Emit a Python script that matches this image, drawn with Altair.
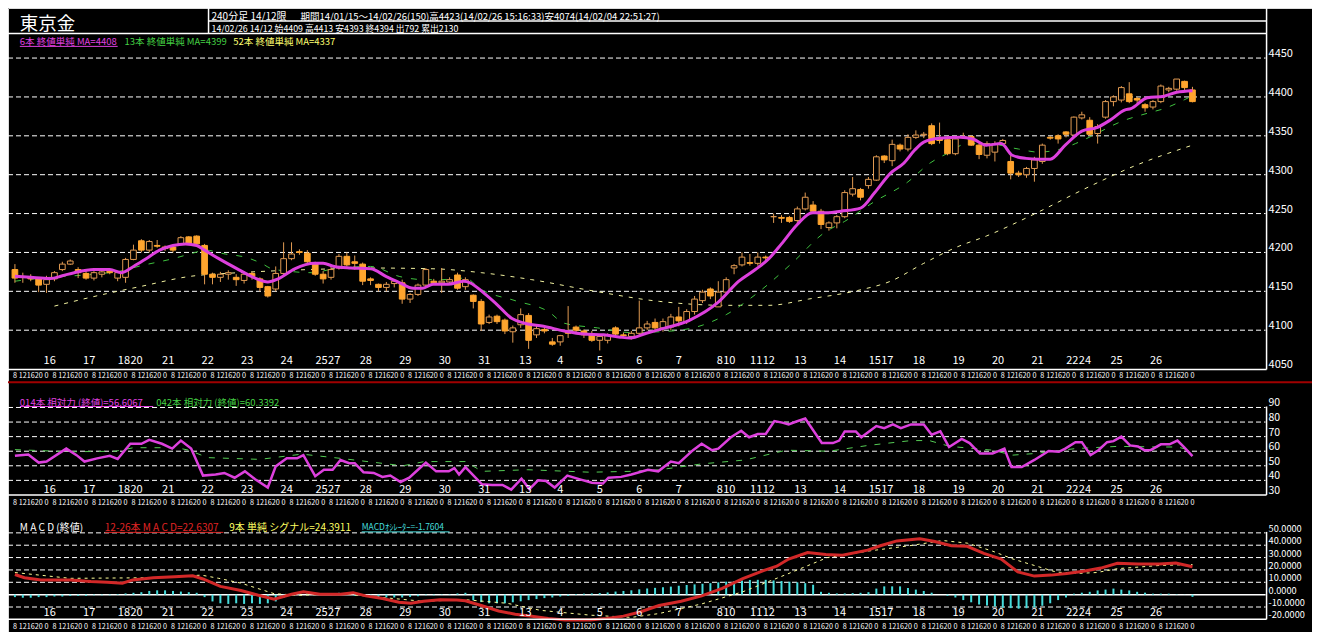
import altair as alt
import pandas as pd

W, H = 1304, 624
SX, SY = W / 1320, H / 642
def X(x): return round(x * SX, 2)
def Y(y): return round(y * SY, 2)

FONT = "Noto Sans CJK JP"
FILL = "#FFA52E"
OUT = "#E09A52"
MAG = "#DD40DD"
GRN = "#3FC23F"
YEL = "#F2F2A0"
RED = "#D22828"
CYA = "#45DCDC"

# ---------------- data ----------------
OPEN = [4178,4169,4168,4166,4159,4166,4178,4185,4178,4173,
        4167,4172,4176,4167,4168,4191,4215,4203,4209,4207,
        4207,4211,4220,4221,4209,4172,4168,4172,4168,4164,
        4173,4166,4156,4153,4173,4192,4201,4199,4186,4172,
        4168,4180,4195,4188,4185,4166,4159,4155,4160,4161,
        4140,4146,4158,4163,4161,4162,4171,4156,4145,4137,
        4110,4118,4113,4098,4107,4119,4094,4101,4085,4085,
        4098,4104,4099,4095,4087,4087,4103,4094,4092,4096,
        4103,4110,4103,4104,4117,4111,4124,4138,4153,4130,
        4149,4180,4184,4187,4186,4194,4246,4245,4245,4241,
        4256,4261,4253,4232,4238,4246,4275,4281,4286,4293,
        4324,4318,4338,4333,4348,4351,4363,4346,4345,4327,
        4348,4349,4338,4325,4329,4340,4317,4302,4300,4308,
        4317,4348,4350,4355,4351,4373,4370,4353,4374,4394,
        4396,4404,4398,4390,4387,4394,4409,4410,4420,4409]
HIGH = [4185,4174,4172,4167,4170,4176,4188,4191,4181,4176,
        4176,4178,4178,4176,4193,4210,4217,4216,4216,4209,
        4209,4221,4221,4222,4211,4174,4175,4177,4172,4175,
        4175,4168,4157,4182,4213,4213,4204,4203,4188,4176,
        4182,4198,4200,4196,4187,4168,4160,4162,4165,4165,
        4148,4160,4180,4166,4180,4168,4174,4168,4146,4140,
        4120,4120,4115,4106,4128,4122,4106,4104,4090,4094,
        4131,4106,4101,4099,4095,4096,4105,4097,4099,4138,
        4112,4115,4115,4121,4130,4127,4144,4152,4155,4163,
        4168,4185,4200,4198,4200,4196,4250,4248,4247,4259,
        4277,4266,4256,4240,4248,4280,4297,4283,4297,4325,
        4325,4345,4340,4352,4357,4355,4366,4367,4350,4350,
        4354,4351,4340,4343,4343,4346,4325,4305,4310,4323,
        4340,4350,4352,4356,4375,4381,4374,4365,4396,4402,
        4414,4419,4400,4392,4396,4416,4413,4423,4421,4413]
LOW = [4161,4161,4163,4149,4148,4163,4176,4184,4167,4165,
       4164,4168,4172,4163,4161,4190,4200,4200,4206,4202,
       4200,4210,4210,4209,4159,4159,4162,4165,4157,4160,
       4165,4150,4142,4150,4171,4190,4197,4186,4170,4160,
       4165,4178,4182,4178,4158,4158,4150,4150,4155,4134,
       4135,4144,4156,4158,4148,4158,4152,4152,4128,4099,
       4108,4108,4095,4084,4103,4076,4090,4096,4080,4080,
       4090,4095,4090,4085,4074,4083,4093,4090,4088,4093,
       4100,4100,4098,4100,4105,4108,4120,4135,4140,4130,
       4145,4172,4182,4183,4183,4188,4238,4238,4238,4238,
       4254,4250,4230,4228,4231,4244,4272,4267,4282,4292,
       4315,4311,4330,4330,4346,4347,4338,4340,4325,4325,
       4346,4337,4320,4321,4317,4338,4294,4297,4296,4291,
       4314,4345,4340,4348,4348,4371,4350,4340,4372,4388,
       4393,4392,4392,4381,4384,4392,4406,4408,4408,4393]
CLOSE = [4167,4168,4166,4158,4165,4174,4185,4189,4174,4167,
         4174,4175,4174,4174,4191,4203,4203,4214,4208,4205,
         4203,4219,4211,4211,4172,4168,4172,4174,4165,4172,
         4169,4155,4144,4173,4192,4198,4200,4188,4172,4166,
         4178,4195,4184,4186,4163,4164,4155,4159,4163,4140,
         4146,4158,4178,4161,4163,4165,4154,4165,4137,4108,
         4117,4111,4099,4103,4120,4087,4102,4099,4082,4093,
         4096,4100,4094,4087,4092,4093,4095,4093,4096,4103,
         4108,4103,4111,4117,4112,4124,4140,4149,4144,4149,
         4165,4183,4194,4186,4194,4193,4246,4244,4240,4256,
         4271,4253,4236,4238,4246,4277,4282,4271,4294,4323,
         4319,4339,4333,4348,4351,4352,4340,4344,4327,4346,
         4349,4338,4326,4340,4340,4344,4302,4300,4308,4319,
         4338,4347,4346,4352,4374,4377,4352,4362,4394,4400,
         4412,4394,4396,4386,4394,4414,4411,4423,4412,4394]

MA6_AT = [0,2,4.5,6,7.5,10,12,13.5,15,16.6,18.3,20,21.6,23,24,25.8,28.3,30.4,32,33.3,35.4,37.9,39,40.4,
          42.5,45,47,48.7,50.4,51.6,52.9,54.8,56.8,57.6,59.2,60.9,62.9,64.5,66.9,69.5,72,74.5,76.6,77.9,
          79.9,81.6,85.4,89,91.6,93.7,95.4,97,99,100.9,102.9,104.5,107,108.8,110.8,112.5,113.8,115,117,
          119.6,121.2,122.9,124.8,126.2,127.9,129.5,131,132.9,135,137,138.7,140.4,141.2,143.3,145.4,147,149]
MA6_VAL = [4169.5,4168,4166.5,4170,4174,4178,4178,4174,4182,4192,4203,4209,4211,4209,4203,4192,4178,4167,4162,
           4166,4179,4186,4186,4182,4180,4179,4169,4161,4154,4154,4159,4159,4163,4161,4149,4134,4115,4109,4105,
           4099,4095,4094,4091,4090,4096,4101,4113,4136,4163,4178,4192,4211,4236,4251,4251,4253,4257,4277,4302,
           4315,4331,4342,4347,4348,4346,4338,4340,4325,4321,4320,4320,4338,4356,4361,4371,4383,4385,4399,4401,
           4406,4408]
MA13_AT = [0,3.3,10,13.3,16,20,22.5,24.1,26.6,29.1,31.2,32.5,34.5,37.5,40.4,45,48.7,51.9,53.9,57,58.9,63.3,
           67.5,69.5,73.7,77.9,81.6,85.8,90,94.1,98.3,102.5,105,108.7,112.9,115.8,118.3,120.4,122.9,127,129.5,
           132.3,134.2,135.5,140.4,143.3,145.4,147.9,148.5]
MA13_VAL = [4163,4167,4172,4176,4183,4192,4199,4203,4198,4194,4186,4179,4176,4174,4179,4182,4169,4165,4165,4167,
            4153,4138,4124,4109,4103,4097,4098,4103,4120,4149,4186,4226,4240,4265,4290,4315,4329,4340,4340,4333,
            4329,4333,4340,4346,4370,4379,4385,4396,4399]
MA52_AT = [5,11.6,15.8,22,28.3,34.5,40.4,44.5,52.9,59,65.4,72.9,81.6,90,95.4,100.4,106.6,110.8,115,119.2,122.9,
           129.1,135.4,141.6,148.7]
MA52_VAL = [4131,4147,4156,4169,4174,4177,4179,4180,4179,4174,4165,4151,4137,4132,4132,4140,4151,4163,4186,4207,
            4221,4250,4282,4311,4337]

RSI14_AT = [0,1.7,3,4,6.5,7.8,8.8,10.4,12,13,14.6,16,17,18.6,19.9,21,22.3,23.8,25.4,26.5,27.8,29.1,30.4,32,33,
            34.4,35.7,36.5,38,39.1,40.2,41.2,42.3,43,44.1,45.4,46.5,47.5,48.8,49.9,51,52,53.3,54.9,55.6,56.2,57,
            59.1,60.4,61.7,62.8,64.1,65.1,66.2,67.2,68.3,69.9,71.5,73,74.4,75.1,76.7,78,80.1,81.4,83,84,85.8,86.9,
            88.2,89,90.6,91.9,92.9,94,95,96.1,97.1,97.9,98.8,100,102.1,103.5,104.3,105,106.4,107.1,109,110,111.1,
            112.1,113.4,115,116,117.1,118.2,119.8,120.8,122.1,123.7,125.2,126.1,127.4,129,130.8,132.1,132.9,134.2,
            135,136.1,137.1,138.2,139,140,141.1,142.1,142.9,143.7,145,146.1,147.1,147.9,149]
RSI14_VAL = [56.9,57.8,52.2,52.9,61.8,57.3,52.9,55.1,56.9,54.7,65.1,65.1,67.8,65.1,61.8,67.3,61.8,43.3,44,45.1,
             41.8,46.2,40.7,35.1,49.6,55.1,55.1,57.3,42.9,47.3,47.3,54,51.8,51.8,45.6,45.1,42.4,43.3,38.9,41.8,
             47.3,52.2,46.2,46.2,48.4,44,49.1,37.3,36.9,36.9,33.6,41.1,34,40,39.6,35.1,43.3,40.7,38.4,37.8,41.8,
             42.4,44,47.3,46.2,52.9,51.8,60.7,65.1,60.7,61.8,69.6,74,69.6,71.8,71.8,80.7,79.6,78.4,80.2,82.4,
             65.6,65.6,67.3,73.6,73.6,69.6,77.3,75.8,78.4,75.8,78.4,78.4,71.3,73.6,62.9,68.4,65.6,58.4,58.4,61.8,
             49.1,49.1,54,60.2,59.6,61.8,66.2,66.2,57.3,60.7,66.2,66.9,70,64,63.3,60.7,60.7,64.7,64.7,67.3,62.9,
             56.6]
RSI42_AT = [0,7,12.7,15,20.5,22,24.4,31,36.3,41.2,49.1,51.8,57,59.1,64.9,72.8,78,81.6,86.9,92.4,97.6,103,108,
            113.4,115.7,118.3,123.7,126.2,129,134.2,139.5,145,147.1,149]
RSI42_VAL = [61.1,59.6,60,62.4,62.4,60.7,55.6,54.4,58,55.1,50,52.9,52.9,46.2,47.3,45.6,46.2,47.3,51.3,54,60.7,
             60,64,67.3,67.3,63.3,60.7,57.3,58.4,61.8,63.3,62.9,62.9,60.3]

MACD_AT = [0,1.2,3.3,7,9.6,11.7,13.6,14.9,17.5,20.2,22.5,23.8,26,28.6,30.7,32.8,35,36.5,38.6,41.2,42.8,44.4,46.5,
           48.6,50.1,51.7,53.8,55.9,57,59,61.2,63.3,65.4,67.5,69.6,72.8,74.9,77,79.1,81.5,84.3,86.9,89.5,92.1,
           94.8,96.4,97.9,100.3,102.6,104.7,107.9,109.5,111.6,114.5,116.4,118.5,120.5,122.6,124.8,126.9,129,
           131.1,133.1,135.2,137.4,139.5,142.1,144.8,146.9,149]
MACD_VAL = [16.3,13.7,11.9,11.9,10.6,10.1,9.3,11.9,13.7,14.5,15.3,12.7,6.7,3.4,-0.3,-3.6,0.3,2.3,0.3,0.3,1.6,-1,
            -3.1,-6.2,-7,-5.4,-4.1,-4.4,-4.9,-8.8,-13.2,-15.8,-17.4,-19.2,-20.5,-20.5,-19.2,-17.4,-14,-8.8,-5.4,
            -1,5,13,19.7,23,28.8,34,32.5,31.9,36,39.6,43.5,45.3,43,39.6,39.1,33.4,28.8,18.4,15,15.8,17.1,18.9,
            21.5,25.4,24.9,24.9,25.6,22.6]
SIG_AT = [0,7,17.5,23.6,25.8,28.6,32.8,36,41.2,46.5,51.7,57,62.3,66.5,72.8,78,81.5,86.9,92.1,97.6,102.8,107.9,
          113.2,117.4,120.5,123.7,126.3,129,131.7,134.2,136.9,139.5,144.8,149]
SIG_VAL = [17.9,13.2,13.7,15.8,13.2,9.3,0.8,-0.5,0.8,-2.3,-5.4,-4.1,-7,-12.7,-16.6,-18.4,-15.3,-7.5,2.3,16.3,30,
           35.2,39.6,43.8,41.7,35.2,28.8,23.6,18.4,17.1,17.9,21,23.6,24.4]
HIST = [-2,-2.5,-2.5,-2,-2,-1.5,-1.5,-1,-1,-1,-0.5,-0.5,-0.5,
        0.5,1,1.5,2,
        3,3.5,3.5,3,2.5,2,1.5,
        -2,
        -5.5,-7,-7.5,-7,-7.5,-7,-7.5,-7,-5.5,
        -2.5,-1,0.5,2.5,1.5,1,-0.5,
        1.5,0.3,-1,-1,-2.3,-2.3,-2.3,-2.3,-2.3,-1.8,
        -1.3,-0.5,-0.5,0.3,0.3,1,1.5,
        -4.5,-6,-7,-7,-7,-6.2,-5.4,-4.4,-3.6,-2.8,-2.3,-1.5,-1,
        0.5,0.8,1,1.3,1.8,2.5,3,3.5,4.3,5,5.5,
        6,6.5,7.2,7.8,8.3,8.8,9.3,10,10.5,11,11.5,11.9,12,12,11.5,11,10.5,10,9.3,8,
        2.3,1.5,1,1,1.2,1.5,2,
        4.9,6.7,6.7,6.7,5.4,4.1,3,
        1.6,0,
        -1,-2.3,-4.4,-6.2,-8,-8.8,-9.6,-10.6,-10.9,-11.4,-11,-10.4,-9,-7,
        -4.4,-2.3,
        0.8,1.6,2.3,3.4,4.1,4.9,4.1,3.4,2.3,1.6,0.8,0.8,0.8,0.3,0.1,-1.76]

DAY_AT = [4,9,14,15,19,24,29,34,39,40,44,49,54,59,64,65,69,74,79,84,89,90,94,95,99,104,109,110,114,119,124,
          129,134,135,139,144]
DAY_TXT = ["16","17","18","20","21","22","23","24","25","27","28","29","30","31","1","3","4","5","6","7","8",
           "10","11","12","13","14","15","17","18","19","20","21","22","24","25","26"]
HOURS = ["8","12","16","20","0"]

MAIN_TICKS = [4050,4100,4150,4200,4250,4300,4350,4400,4450]
MAIN_GRID = [4100,4150,4200,4250,4300,4350,4400,4450]
RSI_TICKS = [30,40,50,60,70,80,90]
RSI_GRID = [40,50,60,70,80,90]
MACD_TICKS = [-20,-10,0,10,20,30,40,50]
MACD_TICK_TXT = ["-20.0000","-10.0000","0.0000","10.0000","20.0000","30.0000","40.0000","50.0000"]
MACD_GRID = [-10,10,20,30,40,50]

HEAD_1A = "240分足 14/12限"
HEAD_1B = "期間14/01/15～14/02/26(150)高4423(14/02/26 15:16:33)安4074(14/02/04 22:51:27)"
HEAD_2 = "14/02/26 14/12 始4409 高4413 安4393 終4394 出792 累出2130"
LEG_MA = ["6本 終値単純 MA=4408", "13本 終値単純 MA=4399", "52本 終値単純 MA=4337"]
LEG_RSI = ["014本 相対力 (終値)=56.6067", "042本 相対力 (終値)=60.3392"]
LEG_MACD = ["M A C D (終値)", "12-26本 M A C D=22.6307", "9本 単純 シグナル=24.3911", "MACDｵｼﾚｰﾀｰ=-1.7604"]

# ---------------- tables ----------------
n = len(OPEN)
cdf = pd.DataFrame({"i": range(n), "o": OPEN, "h": HIGH, "l": LOW, "c": CLOSE})
cdf["top"] = cdf[["o", "c"]].max(axis=1)
cdf["bot"] = cdf[["o", "c"]].min(axis=1)
cdf["up"] = cdf["c"] >= cdf["o"]
cdf["xl"] = cdf["i"] - 0.36
cdf["xr"] = cdf["i"] + 0.36
hdf = pd.DataFrame({"i": range(n), "v": HIST, "z": 0.0})
hours_df = pd.DataFrame({"i": range(n), "t": [HOURS[k % 5] for k in range(n)]})
# a day label followed by another one on the very next bar is set flush against it (as "18|20")
first_of_pair = [k + 1 < len(DAY_AT) and DAY_AT[k + 1] == DAY_AT[k] + 1 for k in range(len(DAY_AT))]
days_df = pd.DataFrame({"i": DAY_AT, "t": DAY_TXT, "pair": first_of_pair})
days_single = days_df[~days_df["pair"]]
days_first = days_df[days_df["pair"]]

xs = alt.Scale(domain=[-0.875, 158.25], range=[X(0), X(1273)], nice=False, zero=False)
ys_main = alt.Scale(domain=[4050, 4450], range=[Y(371.5), Y(51.5)], nice=False, zero=False)
ys_rsi = alt.Scale(domain=[30, 90], range=[Y(501), Y(411)], nice=False, zero=False)
ys_macd = alt.Scale(domain=[-20, 50], range=[Y(629), Y(540)], nice=False, zero=False)

def xq(f): return alt.X(f, scale=xs, axis=None)

def line(at, val, ys, color, w, dash=None, interp="linear"):
    kw = dict(color=color, strokeWidth=w, interpolate=interp)
    if dash:
        kw["strokeDash"] = dash
    return alt.Chart(pd.DataFrame({"p": at, "v": val})).mark_line(**kw).encode(
        x=xq("p:Q"), y=alt.Y("v:Q", scale=ys, axis=None))

def grid(vals, ys, dash=(5, 3)):
    return alt.Chart(pd.DataFrame({"v": vals})).mark_rule(color="white", strokeWidth=1, strokeDash=list(dash)).encode(
        y=alt.Y("v:Q", scale=ys, axis=None), x=alt.value(X(0)), x2=alt.value(X(1273)))

def ticks(vals, txt, ys, size=11):
    return alt.Chart(pd.DataFrame({"v": vals, "t": txt})).mark_text(
        align="left", baseline="alphabetic", dy=-1, color="white", fontSize=size, font=FONT).encode(
        y=alt.Y("v:Q", scale=ys, axis=None), x=alt.value(X(1276)), text="t:N")

def day_row(yb):
    a = alt.Chart(days_single).mark_text(align="left", baseline="alphabetic", dx=-3, color="white",
                                         fontSize=11, font=FONT).encode(
        x=xq("i:Q"), y=alt.value(Y(yb)), text="t:N")
    b = alt.Chart(days_first).mark_text(align="right", baseline="alphabetic", dx=4.5, color="white",
                                        fontSize=11, font=FONT).encode(
        x=xq("i:Q"), y=alt.value(Y(yb)), text="t:N")
    return alt.layer(a, b)

def hour_row(yb):
    return alt.Chart(hours_df).mark_text(align="center", baseline="alphabetic", color="white",
                                         fontSize=7.2, font=FONT).encode(
        x=xq("i:Q"), y=alt.value(Y(yb)), text="t:N")

ONE = pd.DataFrame({"k": [0]})
def hline(x1, x2, y, color="white", w=1.0):
    return alt.Chart(ONE).mark_rule(color=color, strokeWidth=w).encode(
        x=alt.value(X(x1)), x2=alt.value(X(x2)), y=alt.value(Y(y)))
def vline(x, y1, y2, color="white", w=1.0):
    return alt.Chart(ONE).mark_rule(color=color, strokeWidth=w).encode(
        x=alt.value(X(x)), y=alt.value(Y(y1)), y2=alt.value(Y(y2)))
def label(x, y, s, color="white", size=10):
    return alt.Chart(ONE).mark_text(text=s, color=color, fontSize=size, font=FONT, align="left",
                                    baseline="alphabetic").encode(x=alt.value(X(x)), y=alt.value(Y(y)))

# ---------------- main panel ----------------
wicks = alt.Chart(cdf).mark_rule(color=OUT, strokeWidth=1).encode(
    x=xq("i:Q"), y=alt.Y("l:Q", scale=ys_main, axis=None), y2="h:Q")
bodies = alt.Chart(cdf).mark_rect(strokeWidth=1).encode(
    x=xq("xl:Q"), x2="xr:Q",
    y=alt.Y("bot:Q", scale=ys_main, axis=None), y2="top:Q",
    fill=alt.condition("datum.up", alt.value("#000000"), alt.value(FILL)),
    stroke=alt.condition("datum.up", alt.value(OUT), alt.value(FILL)))
main = alt.layer(
    grid(MAIN_GRID, ys_main),
    line(MA52_AT, MA52_VAL, ys_main, YEL, 1, [4, 6], "monotone"),
    line(MA13_AT, MA13_VAL, ys_main, GRN, 1, [6, 9], "monotone"),
    wicks, bodies,
    line(MA6_AT, MA6_VAL, ys_main, MAG, 3, None, "monotone"),
    ticks(MAIN_TICKS, [str(v) for v in MAIN_TICKS], ys_main),
)

# ---------------- RSI panel ----------------
rsi = alt.layer(
    grid(RSI_GRID, ys_rsi),
    line(RSI42_AT, RSI42_VAL, ys_rsi, "#55CC55", 1, [6, 8]),
    line(RSI14_AT, RSI14_VAL, ys_rsi, MAG, 2.5),
    ticks(RSI_TICKS, [str(v) for v in RSI_TICKS], ys_rsi, size=10.5),
)

# ---------------- MACD panel ----------------
hist = alt.Chart(hdf).mark_rule(color=CYA, strokeWidth=2).encode(
    x=xq("i:Q"), y=alt.Y("z:Q", scale=ys_macd, axis=None), y2="v:Q")
zero = alt.Chart(pd.DataFrame({"v": [0]})).mark_rule(color="white", strokeWidth=1.5).encode(
    y=alt.Y("v:Q", scale=ys_macd, axis=None), x=alt.value(X(0)), x2=alt.value(X(1273)))
macd = alt.layer(
    grid(MACD_GRID, ys_macd),
    zero, hist,
    line(SIG_AT, SIG_VAL, ys_macd, "#FFFF99", 1, [3, 4]),
    line(MACD_AT, MACD_VAL, ys_macd, RED, 3),
    ticks(MACD_TICKS, MACD_TICK_TXT, ys_macd, size=9.2),
)

# ---------------- frame, header, legends ----------------
deco = [
    vline(1274, 0, 372, w=1.5), hline(0, 1274, 372, w=1.5),
    vline(1274, 410, 501, w=1.5), hline(0, 1274, 501, w=1.5),
    vline(1274, 539, 629, w=1.5), hline(0, 1274, 629, w=1.5),
    hline(0, 1320, 385, color="#A00000", w=2),
    hline(203, 1274, 13.5, w=1.5), hline(0, 1274, 26.3, w=1.5), vline(203, 0, 26.3, w=1.5),
    label(12, 22.5, "東京金", size=18.5),
    label(206, 12.5, HEAD_1A, size=10),
    label(296, 12.5, HEAD_1B, size=9.5),
    label(206, 25, HEAD_2, size=8.8),
    label(12, 38, LEG_MA[0], color="#E040E0", size=9.5),
    hline(12, 111, 39.5, color="#E040E0", w=1),
    label(118, 38, LEG_MA[1], color="#44D044", size=9.5),
    label(228, 38, LEG_MA[2], color="#FFFF70", size=9.5),
    label(12, 409, LEG_RSI[0], color="#E040E0", size=9.5),
    hline(12, 147, 410, color="#E040E0", w=1),
    label(150, 409, LEG_RSI[1], color="#44D044", size=9.5),
    label(12, 538, LEG_MACD[0], color="white", size=10),
    label(98, 538, LEG_MACD[1], color="#E02424", size=10),
    hline(98, 218, 539.5, color="#E02424", w=1),
    label(224, 538, LEG_MACD[2], color="#FFFF60", size=10),
    label(358, 537, LEG_MACD[3], color=CYA, size=8.5),
    hline(358, 447, 539, color=CYA, w=1),
    day_row(366.5), hour_row(381),
    day_row(498.5), hour_row(511),
    day_row(626), hour_row(639),
]

chart = alt.layer(main, rsi, macd, *deco).resolve_scale(y="independent").properties(
    width=W, height=H, autosize=alt.AutoSizeParams(type="none"), padding=0, background="#000000"
).configure_view(stroke=None).configure(font=FONT)

chart.save("out.html", embed_options={"renderer": "svg", "actions": False})
